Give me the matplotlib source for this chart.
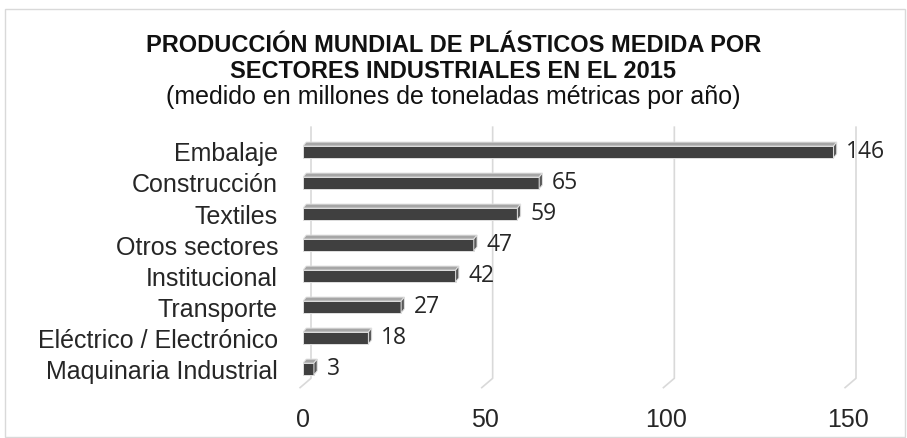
import matplotlib.pyplot as plt
from matplotlib.patches import Polygon, Rectangle

sectores = ["Embalaje", "Construcción", "Textiles", "Otros sectores",
            "Institucional", "Transporte", "Eléctrico / Electrónico",
            "Maquinaria Industrial"]
valores = [146, 65, 59, 47, 42, 27, 18, 3]
ticks = [0, 50, 100, 150]

titulo_1 = "PRODUCCIÓN MUNDIAL DE PLÁSTICOS MEDIDA POR"
titulo_2 = "SECTORES INDUSTRIALES EN EL 2015"
subtitulo = "(medido en millones de toneladas métricas por año)"

plt.rcParams['font.family'] = ['Liberation Sans', 'DejaVu Sans']

fig = plt.figure(figsize=(9.07, 4.38), dpi=100)
ax = fig.add_axes([303 / 907, (438 - 387) / 438, 545 / 907, (387 - 128) / 438])

# pseudo 3D bars (excel style)
h = 0.38            # front face height
dx, dy = 0.9, 0.13  # depth offset (x in data units, y up = negative)
front_col, top_col, side_col = "#404040", "#a6a6a6", "#595959"

# gridlines with the floor bend
for t in ticks:
    ax.plot([t + 2.2, t + 2.2, t - 0.8], [-0.8, 7.3, 7.6], color="#d9d9d9", lw=1.2,
            zorder=0, clip_on=False)

for i, v in enumerate(valores):
    y0, y1 = i - h / 2, i + h / 2
    ax.add_patch(Rectangle((0, y0), v, h, facecolor=front_col,
                           edgecolor="#e0e0e0", lw=0.7, zorder=3))
    ax.add_patch(Polygon([(0, y0), (v, y0), (v + dx, y0 - dy), (dx, y0 - dy)],
                         closed=True, facecolor=top_col, edgecolor="#e0e0e0",
                         lw=0.7, zorder=3))
    ax.add_patch(Polygon([(v, y0), (v + dx, y0 - dy), (v + dx, y1 - dy), (v, y1)],
                         closed=True, facecolor=side_col, edgecolor="#e0e0e0",
                         lw=0.7, zorder=3))
    ax.text(v + dx + 2.6, i, str(v), va="center", ha="left", fontsize=16.5,
            family=["Open Sans", "DejaVu Sans"], color="#262626")

ax.set_xlim(0, 150)
ax.set_ylim(7.58, -0.774)
ax.set_yticks(range(len(sectores)))
ax.set_yticklabels(sectores, fontsize=18, color="#262626")
ax.set_xticks(ticks)
ax.set_xticklabels([str(t) for t in ticks], fontsize=18, color="#262626")
ax.tick_params(axis="y", length=0, pad=18)
ax.tick_params(axis="x", length=0, pad=15)
for s in ax.spines.values():
    s.set_visible(False)
ax.patch.set_alpha(0)

fig.text(0.5, 1 - 45 / 438, titulo_1, ha="center", va="center", fontsize=17,
         fontweight="bold", color="#111111")
fig.text(0.5, 1 - 71 / 438, titulo_2, ha="center", va="center", fontsize=17,
         fontweight="bold", color="#111111")
fig.text(0.5, 1 - 97 / 438, subtitulo, ha="center", va="center", fontsize=18,
         color="#111111")

fig.add_artist(Rectangle((5 / 907, 1 / 438), 900 / 907, 428 / 438,
                         transform=fig.transFigure, fill=False,
                         edgecolor="#d9d9d9", lw=1))

fig.savefig("out.png", dpi=100)
